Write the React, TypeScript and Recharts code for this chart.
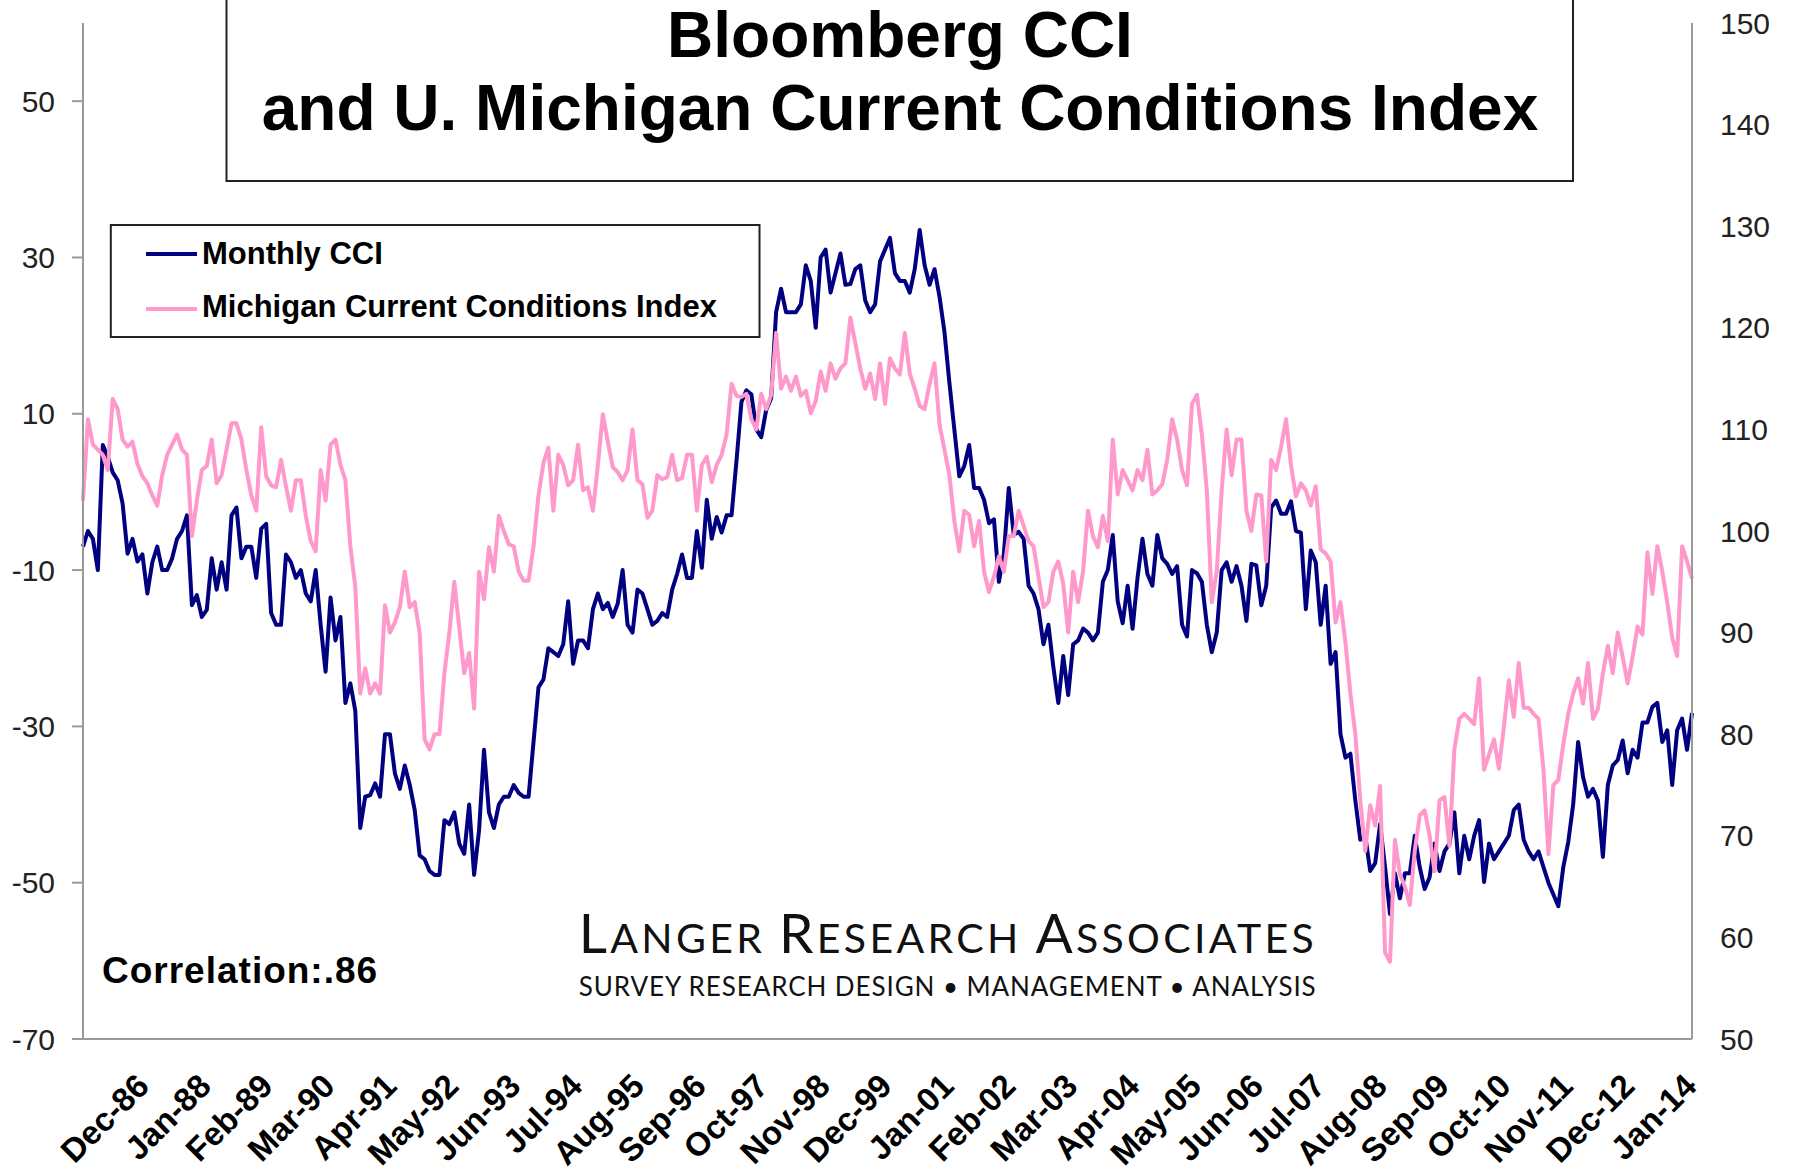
import React from 'react';
import { LineChart, Line, XAxis, YAxis } from 'recharts';

const FONT = '"Liberation Sans", Arial, Helvetica, sans-serif';
const LOGO_FONT = 'Lato, "Open Sans", sans-serif';

const MONTH_NAMES = ['Jan', 'Feb', 'Mar', 'Apr', 'May', 'Jun', 'Jul', 'Aug', 'Sep', 'Oct', 'Nov', 'Dec'];
const START_MONTH = 11; // December
const START_YEAR = 1986;

// Monthly Bloomberg CCI (left axis)
const CCI = [
  -7, -5, -6, -10, 6, 4.5, 2.5, 1.5, -1.5, -7.9,
  -6, -8.9, -8, -13, -9, -7, -10, -10, -8.5, -6,
  -5, -3, -14.5, -13.2, -16, -15.1, -8.5, -12.5, -9, -12.5,
  -3, -2, -8.5, -7, -7, -11, -4.7, -4.1, -15.5, -17,
  -17, -8, -9, -11, -10, -13, -14, -10, -17, -23,
  -13.5, -19, -16, -27, -24.5, -28, -43, -39, -38.8, -37.3,
  -39, -31, -31, -36, -38, -35, -37.5, -40.7, -46.5, -47,
  -48.5, -49, -49, -42, -42.5, -41, -45, -46.3, -40, -49,
  -43.3, -33, -41, -43, -40, -39, -39, -37.5, -38.5, -39,
  -39, -32, -25, -24, -20, -20.5, -21, -19.5, -14, -22,
  -19, -19, -20, -15, -13, -15, -14.2, -16, -14.3, -10,
  -17, -18, -12.5, -13, -15, -17, -16.5, -15.5, -16, -12.5,
  -10.5, -8, -11, -11, -5, -9.7, -1, -6, -3.2, -5.2,
  -3, -3, 4, 11.5, 13, 12.5, 8, 7, 10.5, 12,
  23, 26, 23, 23, 23, 24, 29, 27, 21, 30,
  31, 25.5, 28, 30.5, 26.5, 26.6, 28.5, 29, 24.5, 23,
  24, 29.5, 31, 32.5, 28, 27, 27, 25.5, 28.5, 33.5,
  29, 26.5, 28.5, 25, 20.5, 14, 8, 2, 3.3, 6,
  0.5, 0.5, -1, -4, -3.5, -11.5, -8, 0.5, -5.5, -5.1,
  -6, -12, -13, -15, -19.5, -17, -22.4, -27, -21, -26,
  -19.5, -19, -17.5, -18, -19, -18, -11.5, -10, -5.5, -14,
  -16.8, -12, -17.5, -11, -6, -10.5, -12, -5.5, -8.5, -9.2,
  -10.5, -9.5, -17, -18.5, -10, -10.4, -11.5, -17, -20.5, -18,
  -10, -9, -11.5, -9.5, -12, -16.5, -9.2, -9.4, -14.5, -12,
  -2, -1.1, -2.8, -2.8, -1.2, -5, -5.2, -15, -7.5, -9,
  -17, -12, -22, -20.5, -31, -34, -33.5, -39.5, -44.5, -44,
  -48.5, -47.5, -42.5, -48, -54, -48.8, -52, -48.8, -48.8, -44,
  -48, -50.8, -49.3, -45, -48.5, -46, -45, -41, -48.8, -44,
  -47, -44, -42, -49.9, -45, -47, -46, -45, -44, -40.7,
  -40, -44.5, -46, -47, -46, -48, -50, -51.5, -53, -48,
  -44.8, -40, -32, -36.5, -39, -38, -39.5, -46.7, -37.5, -35,
  -34.3, -31.8, -36, -33, -34, -29.5, -29.5, -27.5, -27, -32,
  -30.5, -37.5, -30.5, -29, -33, -28.3,
];

// Michigan Current Conditions Index (right axis)
const MICHIGAN = [
  103, 111, 108.5, 108, 107.5, 106, 113, 112, 109, 108.3,
  108.8, 106.6, 105.4, 104.7, 103.5, 102.5, 105.5, 107.5, 108.5, 109.5,
  108, 107.5, 99.5, 103, 106, 106.4, 109, 104.7, 105.5, 108,
  110.6, 110.6, 109, 106, 103.5, 102, 110.2, 105.4, 104.5, 104.3,
  107, 104.4, 102, 105, 105, 101.5, 99, 98, 106, 103,
  108.5, 109, 106.5, 105, 98.5, 94.5, 84, 86.5, 84, 85,
  84, 92.7, 90, 91, 92.5, 96, 92.5, 93, 90, 79.5,
  78.5, 80, 80, 86, 90, 95, 90.5, 86, 88, 82.5,
  96, 93.3, 98.4, 96, 101.5, 100, 98.7, 98.5, 96, 95.1,
  95.1, 98.5, 103.5, 106.7, 108.2, 102, 107.5, 106.5, 104.5, 105,
  108.5, 104, 104.3, 102, 106.5, 111.5, 108.8, 106.3, 105.8, 105,
  106, 110, 105, 104.6, 101.3, 102, 105.5, 105.1, 105.3, 107.5,
  105, 105.2, 107.5, 107.5, 102, 106.5, 107.3, 104.8, 106.5, 107.5,
  109.5, 114.5, 113.3, 113.2, 113.5, 111, 110, 113.5, 112, 113.4,
  119.5, 114, 115.2, 113.8, 115.2, 113.3, 113.8, 111.6, 112.8, 115.7,
  113.8, 116.5, 115, 116, 116.5, 121, 118.5, 116, 114, 115.5,
  113, 116.5, 112.5, 117, 116, 115.4, 119.5, 115.5, 114, 112.3,
  112, 114.5, 116.5, 110.5, 108, 105.5, 101, 98, 102, 101.6,
  98.5, 101, 96, 94, 95.5, 97.5, 96, 99.5, 99.5, 102,
  100.5, 99, 98.5, 95.5, 92.5, 93, 96, 97, 94.8, 90,
  96, 93, 96, 102, 99.5, 98.4, 101.5, 99, 109, 103.6,
  106, 105, 104, 106, 105, 108, 103.6, 104, 104.6, 107,
  111, 109, 106, 104.5, 112.5, 113.4, 109.5, 104, 93, 96,
  104, 110, 105.5, 109, 109, 102, 100, 103.6, 103.5, 97,
  107, 106, 108.3, 111, 106.5, 103.4, 104.7, 104, 102.5, 104.4,
  98.2, 97.8, 97, 91, 93, 89, 84, 80, 73.5, 68.5,
  73, 71, 74.9, 58.5, 57.6, 69.6, 66.2, 65, 63.2, 68.5,
  72, 72.5, 70, 66.5, 73.5, 73.8, 69, 78.5, 81.5, 82,
  81.5, 81, 85.5, 76.5, 78, 79.5, 76.6, 80.7, 85.3, 81.7,
  87, 82.6, 82.6, 82, 81.5, 76.5, 68.2, 75, 75.5, 79,
  82, 84, 85.5, 83, 87, 81.5, 82.5, 86, 88.7, 86,
  90, 87.6, 85, 87.6, 90.6, 89.8, 97.9, 93.8, 98.5, 96,
  93, 89.5, 87.7, 98.5, 97, 95.3,
];

const TICK_LABELS = [
  'Dec-86', 'Jan-88', 'Feb-89', 'Mar-90', 'Apr-91', 'May-92', 'Jun-93', 'Jul-94', 'Aug-95',
  'Sep-96', 'Oct-97', 'Nov-98', 'Dec-99', 'Jan-01', 'Feb-02', 'Mar-03', 'Apr-04', 'May-05',
  'Jun-06', 'Jul-07', 'Aug-08', 'Sep-09', 'Oct-10', 'Nov-11', 'Dec-12', 'Jan-14',
];
const LEFT_TICKS = [-70, -50, -30, -10, 10, 30, 50];
const RIGHT_TICKS = [50, 60, 70, 80, 90, 100, 110, 120, 130, 140, 150];

const SERIES = [
  { key: 'cci', name: 'Monthly CCI', color: '#000080', axis: 'left' },
  { key: 'mich', name: 'Michigan Current Conditions Index', color: '#FF99CC', axis: 'right' },
];

const TITLE_LINES = ['Bloomberg CCI', 'and U. Michigan Current Conditions Index'];
const CORRELATION = 'Correlation:.86';

const MONTHS = CCI.map((_, i) => {
  const m = (START_MONTH + i) % 12;
  const y = START_YEAR + Math.floor((START_MONTH + i) / 12);
  return `${MONTH_NAMES[m]}-${String(y % 100).padStart(2, '0')}`;
});

const DATA = MONTHS.map((month, i) => ({ month, cci: CCI[i], mich: MICHIGAN[i] }));

const AXIS_COLOR = '#9a9a9a';

const XTick = (props: any) => {
  const { x, y, payload } = props;
  const k = TICK_LABELS.indexOf(payload.value);
  const ax = x + 68 - 2.46 * k;
  const ay = y + 49;
  return (
    <text
      x={ax}
      y={ay}
      transform={`rotate(-45 ${ax} ${ay})`}
      textAnchor="end"
      fontFamily={FONT}
      fontWeight="bold"
      fontSize={33}
      fill="#000"
    >
      {payload.value}
    </text>
  );
};

const Overlay = () => (
  <svg
    width={1794}
    height={1174}
    style={{ position: 'absolute', left: 0, top: 0, pointerEvents: 'none' }}
  >
    {/* Title box */}
    <rect x={226.5} y={-10} width={1346.5} height={191} fill="#fff" stroke="#222" strokeWidth={2} />
    {TITLE_LINES.map((t, i) => (
      <text
        key={t}
        x={900}
        y={57 + i * 73}
        textAnchor="middle"
        fontFamily={FONT}
        fontWeight="bold"
        fontSize={64}
        fill="#000"
      >
        {t}
      </text>
    ))}
    {/* Legend */}
    <rect x={110.8} y={225} width={648.7} height={112} fill="#fff" stroke="#222" strokeWidth={2} />
    {SERIES.map((s, i) => (
      <g key={s.key}>
        <line x1={146} x2={197} y1={254 + i * 55} y2={254 + i * 55} stroke={s.color} strokeWidth={4} />
        <text
          x={202}
          y={263.5 + i * 53.5}
          fontFamily={FONT}
          fontWeight="bold"
          fontSize={31}
          fill="#000"
        >
          {s.name}
        </text>
      </g>
    ))}
    {/* Correlation */}
    <text x={102} y={983} fontFamily={FONT} fontWeight="bold" fontSize={37} letterSpacing={1} fill="#000">
      {CORRELATION}
    </text>
    {/* Logo */}
    <text x={578.7} y={952.7} fontFamily={LOGO_FONT} fill="#111" textLength={735} lengthAdjust="spacing">
      <tspan fontSize={55}>L</tspan>
      <tspan fontSize={41}>ANGER </tspan>
      <tspan fontSize={55}>R</tspan>
      <tspan fontSize={41}>ESEARCH </tspan>
      <tspan fontSize={55}>A</tspan>
      <tspan fontSize={41}>SSOCIATES</tspan>
    </text>
    <text
      x={578.7}
      y={996}
      fontFamily={LOGO_FONT}
      fontSize={26}
      fill="#111"
      textLength={737}
      lengthAdjust="spacing"
    >
      SURVEY RESEARCH DESIGN • MANAGEMENT • ANALYSIS
    </text>
  </svg>
);

export default function App() {
  return (
    <div style={{ position: 'absolute', left: 0, top: 0, width: 1794, height: 1174, background: '#fff' }}>
      <LineChart width={1794} height={1174} data={DATA} margin={{ top: 23, right: 0, bottom: 0, left: 0 }}>
        <XAxis
          dataKey="month"
          scale="point"
          padding={{ left: 0, right: 0 }}
          ticks={TICK_LABELS}
          interval={0}
          tickLine={false}
          tickSize={0}
          tickMargin={0}
          height={135}
          axisLine={{ stroke: AXIS_COLOR, strokeWidth: 2 }}
          tick={<XTick />}
        />
        <XAxis
          xAxisId="top"
          orientation="top"
          dataKey="month"
          scale="point"
          padding={{ left: 0, right: 0 }}
          height={0}
          tick={false}
          tickLine={false}
          axisLine={{ stroke: AXIS_COLOR, strokeWidth: 2 }}
        />
        <YAxis
          yAxisId="left"
          type="number"
          domain={[-70, 60]}
          ticks={LEFT_TICKS}
          interval={0}
          allowDataOverflow
          width={83}
          tickSize={11}
          tickMargin={17}
          axisLine={{ stroke: AXIS_COLOR, strokeWidth: 2 }}
          tickLine={{ stroke: AXIS_COLOR, strokeWidth: 2 }}
          tick={{ fontSize: 30, fill: '#222', fontFamily: FONT }}
        />
        <YAxis
          yAxisId="right"
          orientation="right"
          type="number"
          domain={[50, 150]}
          ticks={RIGHT_TICKS}
          interval={0}
          allowDataOverflow
          width={102}
          tickSize={0}
          tickMargin={28}
          tickLine={false}
          axisLine={{ stroke: AXIS_COLOR, strokeWidth: 2 }}
          tick={{ fontSize: 30, fill: '#222', fontFamily: FONT }}
        />
        {SERIES.map((s) => (
          <Line
            key={s.key}
            yAxisId={s.axis}
            type="linear"
            dataKey={s.key}
            name={s.name}
            stroke={s.color}
            strokeWidth={4}
            strokeLinejoin="round"
            dot={false}
            activeDot={false}
            isAnimationActive={false}
          />
        ))}
      </LineChart>
      <Overlay />
    </div>
  );
}
